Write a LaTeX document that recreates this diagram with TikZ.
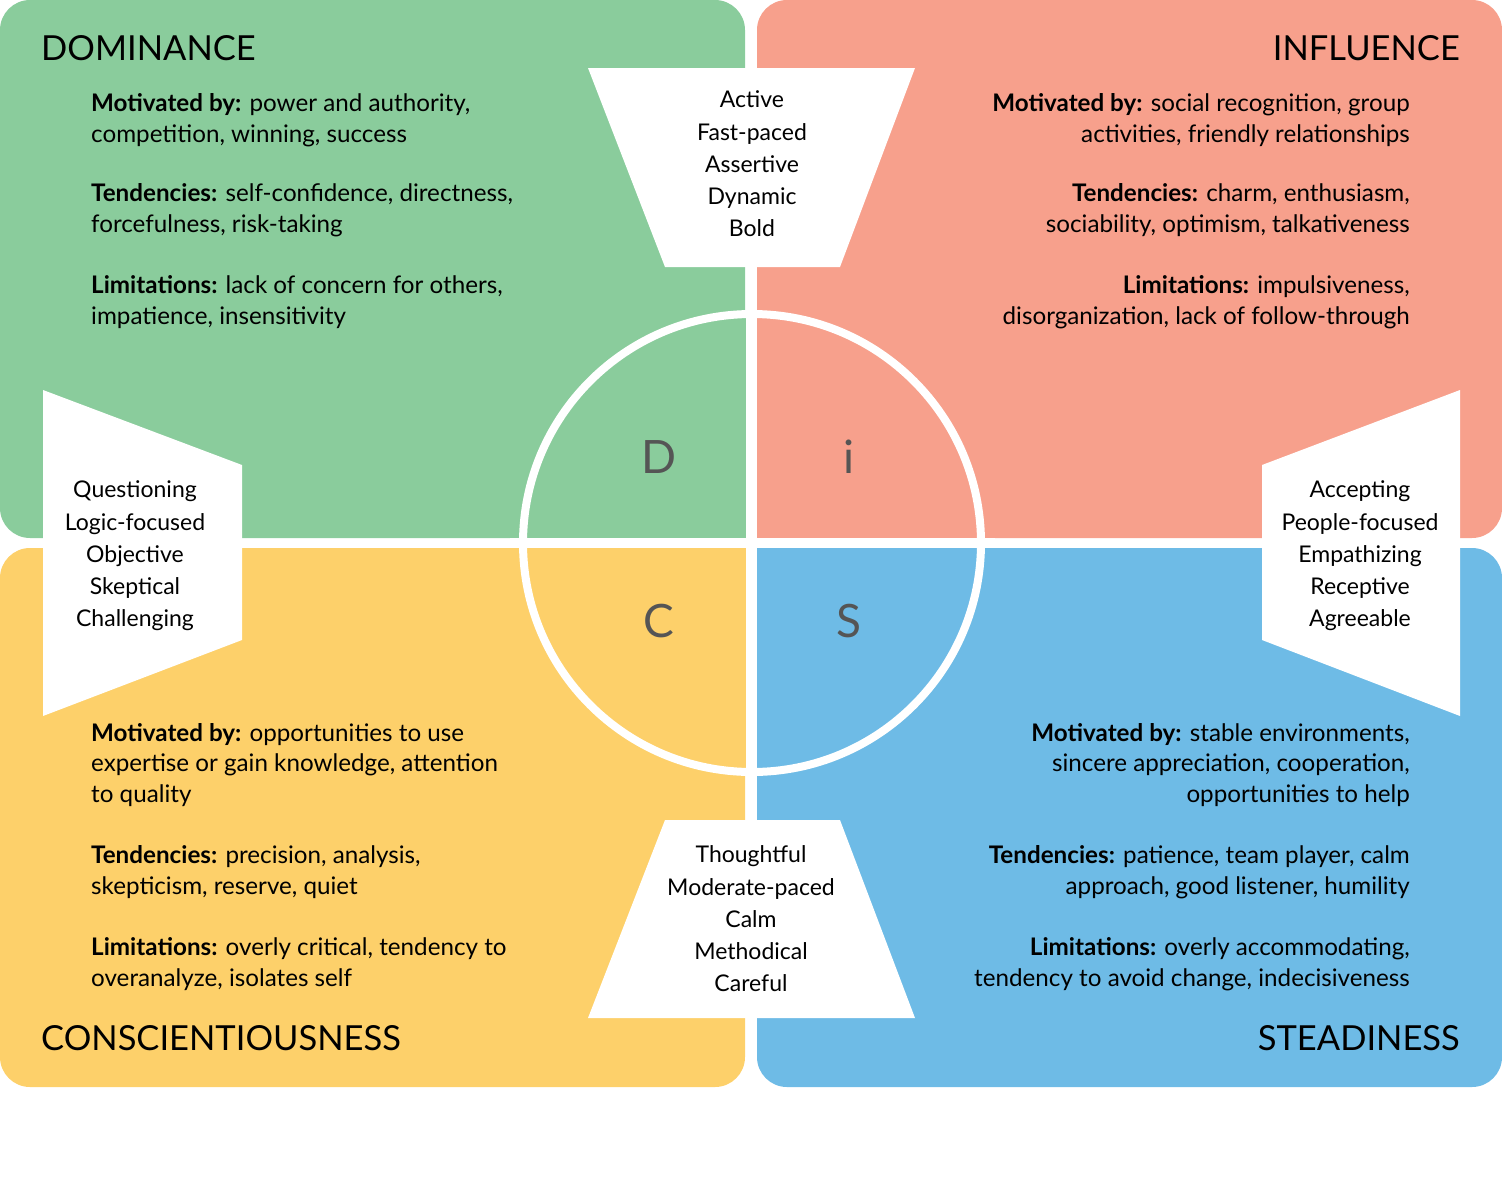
\documentclass[tikz,border=0pt]{standalone}
\usepackage{fontspec}
\setmainfont{Lato}
\definecolor{cg}{HTML}{8ACC9C}
\definecolor{cr}{HTML}{F7A08C}
\definecolor{cy}{HTML}{FDD06A}
\definecolor{cb}{HTML}{6EBBE6}
\definecolor{lt}{HTML}{555555}
\begin{document}
\begin{tikzpicture}[x=1pt,y=-1pt,
 body/.style={font=\fontsize{24.2}{30.5}\selectfont,inner sep=0pt},
 trap/.style={font=\fontsize{23}{32.2}\selectfont,align=center,inner sep=0pt},
 ttl/.style={font=\fontsize{34.5}{40}\selectfont,inner sep=0pt},
 big/.style={font=\fontsize{46}{50}\selectfont,text=lt}]
\useasboundingbox (0,0) rectangle (1502,1181);
\fill[cg,rounded corners=30] (0,0) rectangle (745,538);
\fill[cr,rounded corners=30] (757,0) rectangle (1502,538);
\fill[cy,rounded corners=30] (0,548) rectangle (745,1087);
\fill[cb,rounded corners=30] (757,548) rectangle (1502,1087);
\coordinate (o) at (752,543);
\fill[cg] (o) -- ++(-229,0) arc[start angle=180,end angle=270,radius=229] -- cycle;
\fill[cr] (o) -- ++(0,-229) arc[start angle=270,end angle=360,radius=229] -- cycle;
\fill[cy] (o) -- ++(-229,0) arc[start angle=180,end angle=90,radius=229] -- cycle;
\fill[cb] (o) -- ++(229,0) arc[start angle=0,end angle=90,radius=229] -- cycle;
\draw[white,line width=11] (751,300) -- (751,790);
\draw[white,line width=10] (510,543) -- (995,543);
\draw[white,line width=8] (o) circle[radius=229];
% trapezoids
\fill[white] (588,68) -- (915,68) -- (840,267) -- (665,267) -- cycle;
\fill[white] (665,820) -- (840,820) -- (915,1018) -- (588,1018) -- cycle;
\fill[white] (43,390) -- (242,465) -- (242,640) -- (43,716) -- cycle;
\fill[white] (1460,390) -- (1262,465) -- (1262,640) -- (1460,716) -- cycle;
\node[trap] (tt) at (752,164) {Active\\Fast-paced\\Assertive\\Dynamic\\Bold};
\node[trap] (tb) at (751,919) {Thoughtful\\Moderate-paced\\Calm\\Methodical\\Careful};
\node[trap] (tl) at (135,556) {Questioning\\Logic-focused\\Objective\\Skeptical\\Challenging};
\node[trap] (tr) at (1360,556) {Accepting\\People-focused\\Empathizing\\Receptive\\Agreeable};
% letters
\node[big] (ld) at (659,457) {D};
\node[big] (li) at (849,457) {i};
\node[big] (lc) at (659,621) {C};
\node[big] (ls) at (849,621) {S};
% titles
\node[ttl,anchor=base west] (t1) at (41,60) {DOMINANCE};
\node[ttl,anchor=base east] (t2) at (1460,60) {INFLUENCE};
\node[ttl,anchor=base west] (t3) at (41,1050) {CONSCIENTIOUSNESS};
\node[ttl,anchor=base east] (t4) at (1460,1050) {STEADINESS};
% green
\node[body,align=left,anchor=base west] (g1) at (91,142) {\textbf{Motivated by:} power and authority,\\competition, winning, success};
\node[body,align=left,anchor=base west] (g2) at (91,232) {\textbf{Tendencies:} self-confidence, directness,\\forcefulness, risk-taking};
\node[body,align=left,anchor=base west] (g3) at (91,324) {\textbf{Limitations:} lack of concern for others,\\impatience, insensitivity};
% red
\node[body,align=right,anchor=base east] (r1) at (1410,142) {\textbf{Motivated by:} social recognition, group\\activities, friendly relationships};
\node[body,align=right,anchor=base east] (r2) at (1410,232) {\textbf{Tendencies:} charm, enthusiasm,\\sociability, optimism, talkativeness};
\node[body,align=right,anchor=base east] (r3) at (1410,324) {\textbf{Limitations:} impulsiveness,\\disorganization, lack of follow-through};
% yellow
\node[body,align=left,anchor=base west] (y1) at (91,802) {\textbf{Motivated by:} opportunities to use\\expertise or gain knowledge, attention\\to quality};
\node[body,align=left,anchor=base west] (y2) at (91,894) {\textbf{Tendencies:} precision, analysis,\\skepticism, reserve, quiet};
\node[body,align=left,anchor=base west] (y3) at (91,986) {\textbf{Limitations:} overly critical, tendency to\\overanalyze, isolates self};
% blue
\node[body,align=right,anchor=base east] (b1) at (1410,802) {\textbf{Motivated by:} stable environments,\\sincere appreciation, cooperation,\\opportunities to help};
\node[body,align=right,anchor=base east] (b2) at (1410,894) {\textbf{Tendencies:} patience, team player, calm\\approach, good listener, humility};
\node[body,align=right,anchor=base east] (b3) at (1410,986) {\textbf{Limitations:} overly accommodating,\\tendency to avoid change, indecisiveness};
\end{tikzpicture}
\end{document}
